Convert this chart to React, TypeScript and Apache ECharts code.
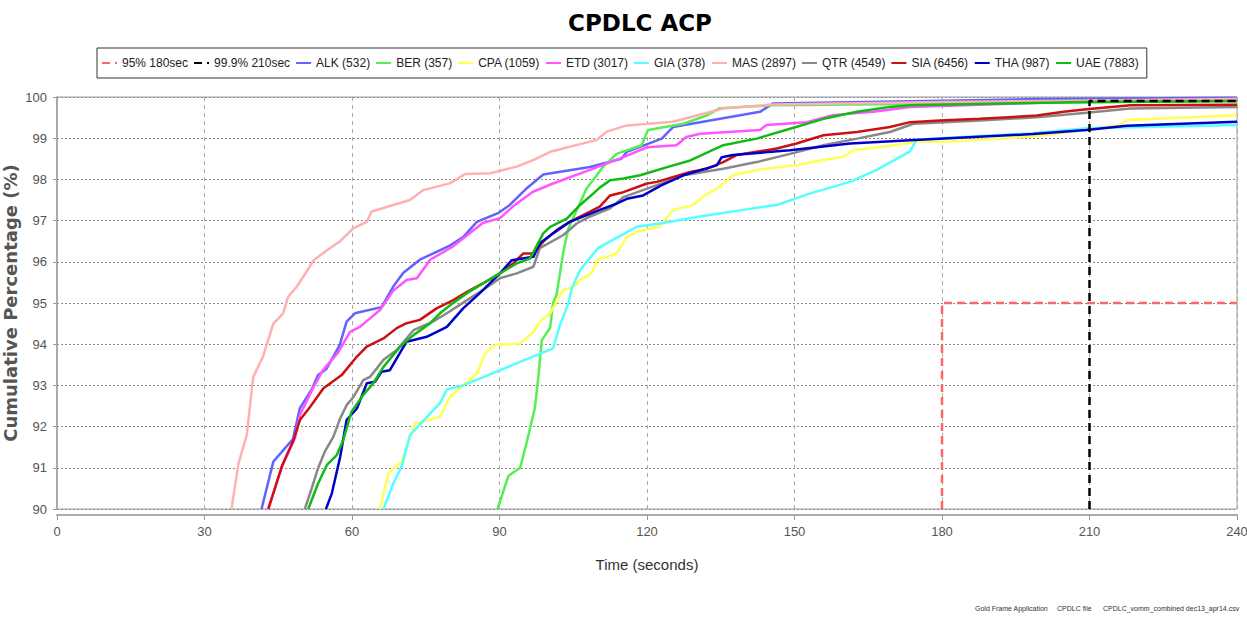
import React, { useEffect, useRef } from "react";
import * as echarts from "echarts";

const TITLE = "CPDLC ACP";
const X_NAME = "Time (seconds)";
const Y_NAME = "Cumulative Percentage (%)";
const FOOTNOTE_PARTS = ["Gold Frame Application", "CPDLC file", "CPDLC_vomm_combined dec13_apr14.csv"];

const X_MIN = 0;
const X_MAX = 240;
const X_STEP = 30;
const Y_MIN = 90;
const Y_MAX = 100;
const Y_STEP = 1;

const T95 = [[180, 90], [180, 95], [240, 95]];
const T999 = [[210, 90], [210, 99.9], [240, 99.9]];

const ALK = [[41.6,90],[44,91.15],[48,91.7],[49.4,92.45],[51.8,92.9],[53.1,93.25],[54.8,93.4],[57.5,93.98],[58.9,94.55],[60.6,94.75],[66,94.9],[68.4,95.4],[70.4,95.73],[73.8,96.05],[80,96.4],[82.6,96.6],[85.4,96.97],[89.7,97.18],[92.1,97.38],[95.5,97.78],[98.9,98.12],[108.4,98.3],[114.8,98.5],[115.9,98.67],[123,98.99],[125.3,99.27],[143,99.64],[145.6,99.84],[200,99.95],[240,99.98]];
const BER = [[89.6,90],[91.8,90.8],[94.2,91.0],[95.5,91.6],[97.2,92.45],[97.9,93.2],[98.6,94.1],[100.3,94.4],[100.9,95],[101.6,95.2],[103,96.25],[104,96.8],[107.7,97.78],[109.8,98.1],[111,98.3],[113.8,98.62],[118.9,98.83],[120.2,99.2],[127.4,99.35],[132.1,99.55],[134.8,99.73],[145.6,99.8],[240,99.9]];
const CPA = [[65.7,90],[67.4,90.87],[70.1,91.15],[72.8,92.07],[77.9,92.24],[79.9,92.72],[82.6,93.0],[85.4,93.29],[87.1,93.78],[89.1,93.98],[94.2,94.02],[96.9,94.3],[98.2,94.55],[100.3,94.75],[103,95.32],[105,95.38],[106.4,95.56],[108.7,95.72],[110,96.05],[113.8,96.2],[115.9,96.6],[117.9,96.73],[122.6,96.85],[125.3,97.26],[129.4,97.38],[131.4,97.58],[134.8,97.82],[137.5,98.1],[142.3,98.23],[150.4,98.35],[155.8,98.47],[159.9,98.55],[162,98.71],[168,98.79],[174.8,98.91],[181.6,98.92],[198.5,99.04],[209.4,99.2],[216.2,99.32],[217.6,99.44],[240,99.56]];
const ETD = [[42.9,90],[46,91.1],[48.4,91.72],[49.4,92.28],[52.1,92.94],[54.1,93.37],[57.2,93.8],[59.6,94.3],[61.6,94.42],[65.7,94.83],[68.4,95.3],[71.1,95.56],[73.2,95.6],[75.9,96.05],[80.5,96.37],[86.6,96.94],[90.1,97.06],[92.7,97.34],[96.8,97.7],[100.9,97.9],[108.4,98.23],[115.2,98.54],[120,98.78],[126,98.83],[128,99.03],[130.8,99.11],[143,99.2],[144.3,99.32],[152.5,99.39],[157.8,99.56],[166,99.64],[173.5,99.76],[210,99.9],[240,99.95]];
const GIA = [[66.4,90],[68.4,90.62],[70.1,91.03],[71.8,91.8],[72.8,91.92],[75.9,92.32],[77.9,92.57],[79.3,92.9],[82.6,93.0],[100.9,93.9],[102.3,94.47],[104,94.99],[104.7,95.36],[106.4,95.8],[110,96.33],[114.1,96.6],[117.9,96.85],[123.3,96.94],[130.8,97.1],[139.5,97.26],[146.4,97.38],[153.2,97.66],[161.3,97.94],[166.7,98.23],[173.5,98.68],[174.8,98.96],[179.6,99.0],[198.5,99.12],[209.4,99.24],[240,99.32]];
const MAS = [[35.5,90],[36.9,91.1],[38.6,91.8],[39.9,93.2],[41.9,93.7],[44,94.5],[46,94.75],[47,95.15],[48.8,95.4],[52.3,96.05],[55.5,96.33],[57.5,96.49],[60.3,96.82],[63,96.97],[64,97.22],[71.8,97.5],[74.5,97.74],[80,97.91],[83,98.13],[88.1,98.15],[93.5,98.31],[96.9,98.47],[100.3,98.67],[109.8,98.96],[111.8,99.16],[115.9,99.31],[125.3,99.4],[135.5,99.72],[145.6,99.82],[180,99.88],[240,99.95]];
const QTR = [[50.4,90],[51.8,90.5],[53.1,90.99],[54.5,91.4],[56.2,91.75],[57.6,92.2],[58.9,92.52],[60.3,92.72],[62.3,93.13],[63.7,93.21],[66.4,93.62],[69.1,93.86],[72.5,94.34],[76.5,94.55],[79.3,94.75],[83.4,95.07],[86.7,95.32],[90.1,95.6],[93.5,95.72],[96.9,95.88],[98.2,96.33],[103,96.65],[105.7,96.93],[108.4,97.1],[112.5,97.3],[115.2,97.57],[122,97.86],[127.4,98.1],[135.5,98.26],[142.3,98.42],[149.1,98.62],[155.9,98.83],[162.7,98.99],[169.4,99.15],[174.2,99.35],[187.7,99.43],[199.3,99.51],[209.4,99.62],[218.3,99.72],[240,99.76]];
const SIA = [[43,90],[45.7,91.03],[48.1,91.67],[49.4,92.16],[51.5,92.48],[54.2,92.93],[57.9,93.25],[61,93.7],[63,93.94],[66.4,94.14],[69.1,94.39],[71.1,94.51],[73.8,94.59],[77.2,94.87],[80.6,95.07],[83.4,95.27],[86.7,95.48],[90.1,95.72],[92.8,95.96],[94.8,96.2],[96.9,96.2],[98.9,96.49],[101.6,96.77],[104.3,96.97],[110.4,97.34],[112.5,97.61],[115.2,97.69],[120,97.9],[122,97.94],[128.8,98.18],[132.2,98.26],[135.5,98.42],[138.2,98.59],[146.4,98.75],[150.4,98.87],[155.9,99.07],[162.7,99.15],[169.4,99.27],[173.5,99.39],[179.6,99.43],[187.7,99.47],[199.3,99.55],[204.7,99.64],[209.4,99.7],[218.3,99.8],[240,99.81]];
const THA = [[54.7,90],[55.9,90.38],[57.6,91.27],[58.9,92.16],[61,92.44],[63,93.05],[64.7,93.09],[66,93.33],[67.7,93.37],[71.1,94.06],[75.2,94.18],[79.3,94.42],[82.6,94.87],[86,95.24],[90.1,95.72],[92.5,96.04],[96.9,96.12],[98.2,96.45],[100.9,96.69],[104.3,96.97],[110.4,97.26],[113.8,97.41],[115.9,97.53],[119.2,97.61],[123,97.86],[127.4,98.1],[134.2,98.34],[135.2,98.54],[137.5,98.59],[149.1,98.71],[161.3,98.87],[173.5,98.95],[198.5,99.1],[209.4,99.2],[217.6,99.3],[240,99.4]];
const UAE = [[51.1,90],[53.1,90.62],[54.9,91.07],[56.9,91.31],[58.2,91.67],[59.9,92.36],[62.3,92.77],[64.3,93.05],[66.4,93.45],[69.8,93.94],[72.5,94.22],[75.9,94.51],[77.9,94.75],[80,94.95],[83.4,95.24],[86.7,95.48],[90.1,95.72],[93.5,95.96],[96.2,96.08],[98.9,96.69],[100.3,96.85],[103.7,97.05],[106.4,97.38],[109.1,97.66],[110.4,97.8],[112.5,97.98],[115.2,98.02],[118.6,98.1],[125.3,98.34],[128.8,98.46],[135.5,98.83],[142.3,98.99],[149.1,99.23],[155.9,99.47],[162.7,99.64],[169.4,99.76],[173.5,99.8],[210,99.88],[240,99.9]];

const AIRLINE_SERIES = [
  { name: "ALK (532)", data: ALK, color: "#6262ff" },
  { name: "BER (357)", data: BER, color: "#55ee55" },
  { name: "CPA (1059)", data: CPA, color: "#ffff55" },
  { name: "ETD (3017)", data: ETD, color: "#ff55ff" },
  { name: "GIA (378)", data: GIA, color: "#55ffff" },
  { name: "MAS (2897)", data: MAS, color: "#ffb0b0" },
  { name: "QTR (4549)", data: QTR, color: "#888888" },
  { name: "SIA (6456)", data: SIA, color: "#cc1111" },
  { name: "THA (987)", data: THA, color: "#0000cc" },
  { name: "UAE (7883)", data: UAE, color: "#11bb11" },
];
const THRESHOLD_SERIES = [
  { name: "95% 180sec", data: T95, color: "#ff6666" },
  { name: "99.9% 210sec", data: T999, color: "#000000" },
];

const SANS = "'Liberation Sans', Arial, sans-serif";

export default function App() {
  const ref = useRef<HTMLDivElement>(null);
  useEffect(() => {
    if (!ref.current) return;
    const chart = echarts.init(ref.current, undefined, { renderer: "svg" });
    const series: any[] = [];
    THRESHOLD_SERIES.forEach((s) => {
      series.push({
        name: s.name,
        type: "line",
        data: s.data,
        symbol: "none",
        z: 5,
        color: s.color,
        lineStyle: { color: s.color, width: 2.5, type: [8, 5] },
      });
    });
    AIRLINE_SERIES.forEach((s) => {
      series.push({
        name: s.name,
        type: "line",
        data: s.data,
        symbol: "none",
        z: 3,
        color: s.color,
        lineStyle: { color: s.color, width: 2.5 },
      });
    });
    chart.setOption({
      animation: false,
      backgroundColor: "#ffffff",
      grid: {
        left: 57, right: 10, top: 97, bottom: 109,
        outerBoundsMode: "none",
        containLabel: false,
        show: true, borderColor: "#9a9a9a", borderWidth: 1,
      },
      legend: {
        left: 97,
        top: 48,
        padding: [9, 8, 9, 4],
        borderColor: "#333",
        borderWidth: 1,
        itemWidth: 15,
        itemHeight: 12,
        itemGap: 5,
        itemStyle: { opacity: 0 },
        data: [...THRESHOLD_SERIES, ...AIRLINE_SERIES].map((s) => s.name),
        textStyle: { fontFamily: SANS, fontSize: 12, color: "#222" },
      },
      xAxis: {
        type: "value",
        min: X_MIN,
        max: X_MAX,
        interval: X_STEP,
        offset: 6,
        name: X_NAME,
        nameLocation: "middle",
        nameGap: 42,
        nameMoveOverlap: false,
        nameTextStyle: { fontFamily: SANS, fontSize: 15, color: "#333" },
        axisLine: { show: true, lineStyle: { color: "#aaa", width: 2 } },
        axisTick: { show: true, length: 5, lineStyle: { color: "#999" } },
        axisLabel: { fontFamily: SANS, fontSize: 13, color: "#555", margin: 10 },
        splitLine: { show: true, lineStyle: { color: "#aaa", type: [4, 4], width: 1 } },
      },
      yAxis: {
        type: "value",
        min: Y_MIN,
        max: Y_MAX,
        interval: Y_STEP,
        offset: 5,
        name: Y_NAME,
        nameLocation: "middle",
        nameGap: 33,
        nameRotate: 90,
        nameMoveOverlap: false,
        nameTextStyle: { fontFamily: "'DejaVu Sans', sans-serif", fontWeight: "bold", fontSize: 18, color: "#555" },
        axisLine: { show: true, lineStyle: { color: "#aaa", width: 2 } },
        axisTick: { show: true, length: 4, lineStyle: { color: "#999" } },
        axisLabel: { fontFamily: SANS, fontSize: 13, color: "#555", margin: 5 },
        splitLine: { show: true, lineStyle: { color: "#888", type: [2, 2], width: 1 } },
      },
      graphic: [
        {
          type: "text",
          x: 640,
          y: 11,
          style: { text: TITLE, textAlign: "center", font: "bold 23px 'DejaVu Sans', sans-serif", fill: "#000" },
        },
        {
          type: "text",
          x: 975,
          y: 605,
          style: { text: FOOTNOTE_PARTS[0], font: "7px 'Liberation Sans', sans-serif", fill: "#333" },
        },
        {
          type: "text",
          x: 1057,
          y: 605,
          style: { text: FOOTNOTE_PARTS[1], font: "7px 'Liberation Sans', sans-serif", fill: "#333" },
        },
        {
          type: "text",
          x: 1103,
          y: 605,
          style: { text: FOOTNOTE_PARTS[2], font: "7px 'Liberation Sans', sans-serif", fill: "#333" },
        },
      ],
      series,
    });
    return () => chart.dispose();
  }, []);
  return <div ref={ref} style={{ position: "fixed", left: 0, top: 0, width: 1247, height: 618 }} />;
}
